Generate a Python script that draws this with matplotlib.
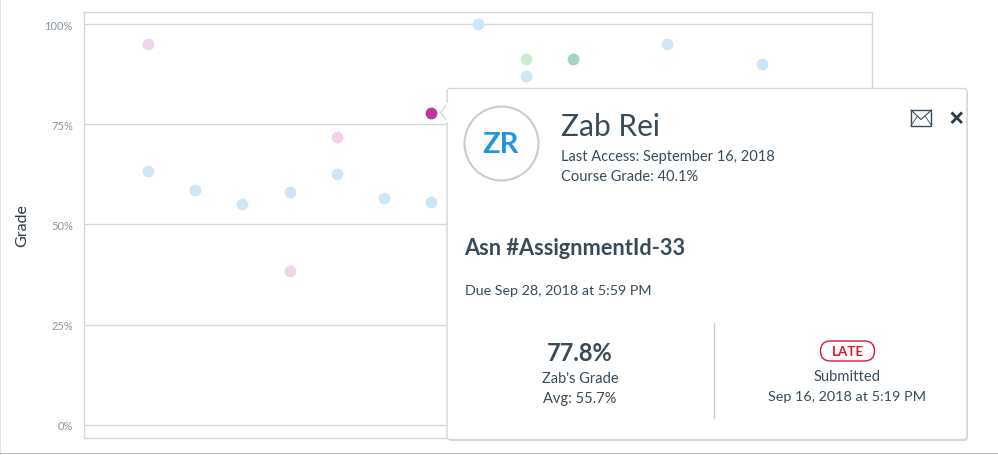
import matplotlib
matplotlib.use('Agg')
from matplotlib import pyplot as plt
from matplotlib.patches import Circle, FancyBboxPatch, Polygon, Rectangle

plt.rcParams['font.family'] = ['Lato', 'DejaVu Sans']

W, H = 998, 456
TEXT = '#394b58'
LINE = '#d3d8db'

y_ticks = [0, 25, 50, 75, 100]
y_labels = ['0%', '25%', '50%', '75%', '100%']

blue_x = [0, 1, 2, 3, 4, 5, 6, 7, 8, 11, 13]
blue_y = [63.3, 58.7, 55, 58, 62.5, 56.5, 55.7, 100, 87, 95, 90]
pink_x = [0, 3, 4]
pink_y = [95, 38.4, 71.8]
green_x = [8]
green_y = [91.2]
teal_x = [9]
teal_y = [91.2]
active_x = [6]
active_y = [77.8]

fig = plt.figure(figsize=(W / 100, H / 100), dpi=100)

# plot area, figure fractions taken from the pixel edges of the frame
ax = fig.add_axes([84 / W, 1 - 438.7 / H, (872 - 84) / W, (438 - 12) / H])
ax.set_xlim(-1.355, 15.34)
ax.set_ylim(-3.2, 103.1)
ax.set_xticks([])
ax.set_yticks(y_ticks)
ax.set_yticklabels(y_labels, color='#8b969e', fontsize=8)
ax.tick_params(axis='y', length=0, pad=8)
ax.grid(axis='y', color=LINE, linewidth=1)
ax.set_axisbelow(True)
for side in ax.spines:
    ax.spines[side].set_color(LINE)
    ax.spines[side].set_linewidth(1)
ax.set_ylabel('Grade', fontsize=11.5, color='#2d3b45', labelpad=11)

ax.scatter(blue_x, blue_y, s=72, color='#cfe6f6', linewidths=0, zorder=3)
ax.scatter(pink_x, pink_y, s=72, color='#f1d3ea', linewidths=0, zorder=3)
ax.scatter(green_x, green_y, s=72, color='#cde9d0', linewidths=0, zorder=3)
ax.scatter(teal_x, teal_y, s=72, color='#9fd6bf', linewidths=0, zorder=3)
ax.scatter(active_x, active_y, s=72, color='#bb3a97', linewidths=0, zorder=3)

# overlay in pixel coords for the popover
ov = fig.add_axes([0, 0, 1, 1], facecolor='none')
ov.set_xlim(0, W)
ov.set_ylim(H, 0)
ov.axis('off')

# screenshot edge
ov.add_patch(Rectangle((0, 0), 1.5, H, color='#e4e4e4', lw=0))
ov.add_patch(Rectangle((0, 0), W, 1, color='#f0f0f0', lw=0))
ov.add_patch(Rectangle((0, 454), W, 1.2, color='#b8b8b8', lw=0))

# popover card
ov.add_patch(FancyBboxPatch((448, 91), 520, 351, boxstyle='round,pad=0,rounding_size=4',
                            fc='#b9c0c5', ec='none', alpha=0.6, zorder=4))
ov.add_patch(FancyBboxPatch((447, 89.5), 520, 351, boxstyle='round,pad=0,rounding_size=3',
                            fc='white', ec=LINE, lw=1, zorder=5))
ov.add_patch(Polygon([[447, 105], [440.5, 113.5], [447, 122]], closed=True,
                     fc='white', ec=LINE, lw=1, zorder=6))
ov.add_patch(Rectangle((446.5, 104), 2.5, 19, fc='white', ec='none', zorder=7))

# avatar
ov.add_patch(Circle((501.5, 144.5), 37, fc='white', ec='#c7cdd1', lw=1.5, zorder=8))
ov.text(501, 145.5, 'ZR', fontsize=21, fontweight='bold', color='#2197e0',
        ha='center', va='center', zorder=9)

ov.text(561, 127, 'Zab Rei', fontsize=21.5, color=TEXT, va='center', zorder=9)
ov.text(561, 157, 'Last Access: September 16, 2018', fontsize=10.5, color=TEXT, va='center', zorder=9)
ov.text(561, 177, 'Course Grade: 40.1%', fontsize=10.55, color=TEXT, va='center', zorder=9)
ov.text(464.5, 249, 'Asn #AssignmentId-33', fontsize=15.7, fontweight='bold', color=TEXT, va='center', zorder=9)
ov.text(465, 291, 'Due Sep 28, 2018 at 5:59 PM', fontsize=10.3, color=TEXT, va='center', zorder=9)

# mail icon
ov.add_patch(Rectangle((911, 111), 20.5, 15.5, fc='white', ec=TEXT, lw=1, zorder=9))
ov.plot([911, 921, 931.5], [111, 120.5, 111], color=TEXT, lw=0.8, zorder=10)
ov.plot([911, 917.5], [126.5, 117], color=TEXT, lw=0.6, zorder=10)
ov.plot([931.5, 925], [126.5, 117], color=TEXT, lw=0.6, zorder=10)

# close icon
ov.plot([952.5, 961], [114.5, 123], color='#2d3b45', lw=2, zorder=10)
ov.plot([961, 952.5], [114.5, 123], color='#2d3b45', lw=2, zorder=10)

# divider
ov.plot([714, 714], [324, 419], color='#c7cdd1', lw=1, zorder=9)

ov.text(580, 353.5, '77.8%', fontsize=17, fontweight='bold', color=TEXT, ha='center', va='center', zorder=9)
ov.text(580, 379.5, "Zab's Grade", fontsize=10.5, color=TEXT, ha='center', va='center', zorder=9)
ov.text(580, 399.5, 'Avg: 55.7%', fontsize=10.5, color=TEXT, ha='center', va='center', zorder=9)

# late pill
ov.add_patch(FancyBboxPatch((820.5, 342), 54, 20, boxstyle='round,pad=0,rounding_size=10',
                            fc='white', ec='#e0162b', lw=1, zorder=9))
ov.text(847.5, 352.5, 'LATE', fontsize=9.6, fontweight='bold', color='#e0162b',
        ha='center', va='center', zorder=10)
ov.text(847, 377, 'Submitted', fontsize=10.6, color=TEXT, ha='center', va='center', zorder=9)
ov.text(847, 397, 'Sep 16, 2018 at 5:19 PM', fontsize=10.35, color=TEXT, ha='center', va='center', zorder=9)

fig.savefig('out.png', dpi=100)
